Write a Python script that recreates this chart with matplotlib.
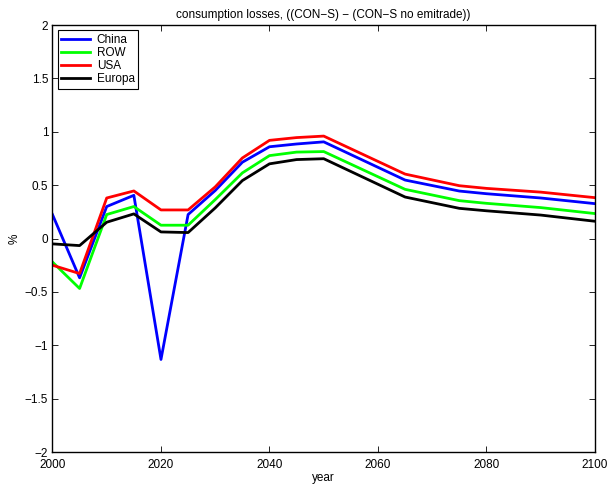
import matplotlib
matplotlib.use('Agg')
import matplotlib.pyplot as plt
import numpy as np

plt.rcParams['font.family'] = ['Liberation Sans', 'DejaVu Sans']

# years with model output
years = [2000, 2005, 2010, 2015, 2020, 2025, 2030, 2035, 2040, 2045, 2050,
         2065, 2075, 2080, 2090, 2100]

# consumption losses per region (%)
china = [0.225, -0.368, 0.30, 0.405, -1.133, 0.225, 0.45, 0.715, 0.86, 0.886, 0.906,
         0.548, 0.445, 0.42, 0.38, 0.327]
row = [-0.22, -0.468, 0.225, 0.30, 0.125, 0.125, 0.365, 0.615, 0.777, 0.81, 0.815,
       0.461, 0.355, 0.33, 0.29, 0.234]
usa = [-0.25, -0.328, 0.38, 0.446, 0.268, 0.268, 0.484, 0.755, 0.92, 0.946, 0.96,
       0.604, 0.495, 0.47, 0.435, 0.383]
europa = [-0.05, -0.066, 0.153, 0.231, 0.062, 0.056, 0.287, 0.543, 0.70, 0.74, 0.748,
          0.389, 0.283, 0.26, 0.22, 0.162]

fig = plt.figure(figsize=(6.08, 4.92), dpi=100)
ax = fig.add_axes([0.0863, 0.0813, 0.8923, 0.8677])

ax.plot(years, china, color='#0000ff', lw=2, label='China')
ax.plot(years, row, color='#00ff00', lw=2, label='ROW')
ax.plot(years, usa, color='#ff0000', lw=2, label='USA')
ax.plot(years, europa, color='#000000', lw=2, label='Europa')

ax.set_xlim(2000, 2100)
ax.set_ylim(-2, 2)
ax.set_xticks(np.arange(2000, 2101, 20))
yt = np.arange(-2, 2.01, 0.5)
ax.set_yticks(yt)
ax.set_yticklabels(['\u2212' + f'{abs(v):g}' if v < 0 else f'{v:g}' for v in yt])
ax.tick_params(direction='in', top=True, right=True, length=4, width=0.6,
               labelsize=8.5)
ax.tick_params(axis='x', pad=5)
ax.tick_params(axis='y', pad=3)
for s in ax.spines.values():
    s.set_linewidth(1.0)

ax.set_xlabel('year', fontsize=8.5, labelpad=1)
ax.set_ylabel('%', fontsize=8.5, labelpad=3)
ax.set_title('consumption losses, ((CON\u2212S) \u2212 (CON\u2212S no emitrade))',
             fontsize=8.5, pad=5)

leg = ax.legend(loc='upper left', fontsize=8.5, handlelength=2.4, handletextpad=0.6,
                labelspacing=0.1, borderpad=0.3, fancybox=False, framealpha=1,
                borderaxespad=0.45)
leg.get_frame().set_edgecolor('black')
leg.get_frame().set_linewidth(0.8)

fig.savefig('out.png', dpi=100)
